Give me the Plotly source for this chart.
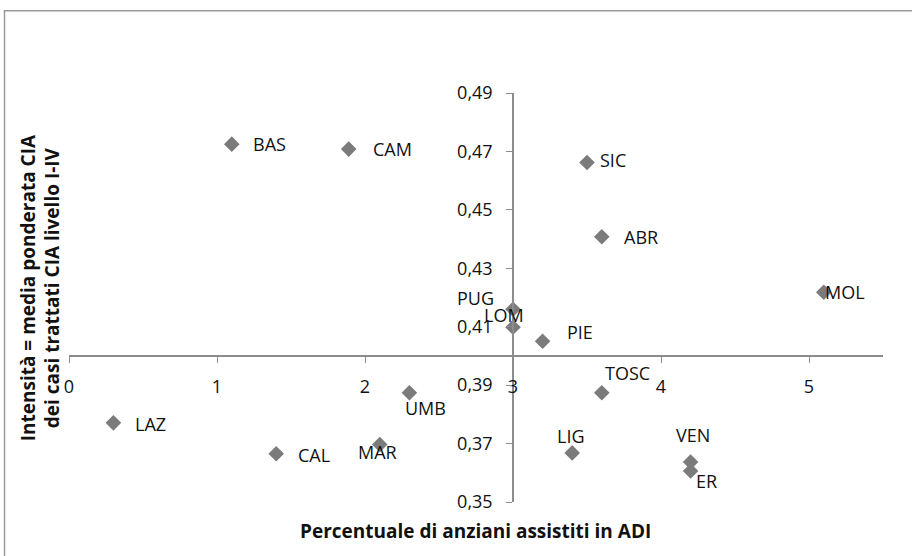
import plotly.graph_objects as go

# ---- data ----
regions = ["BAS", "CAM", "SIC", "ABR", "MOL", "PUG", "LOM", "PIE", "TOSC",
           "LIG", "VEN", "ER", "LAZ", "CAL", "MAR", "UMB"]
adi_pct = [1.10, 1.89, 3.50, 3.60, 5.10, 3.00, 3.00, 3.20, 3.60,
           3.40, 4.20, 4.20, 0.30, 1.40, 2.10, 2.30]
intensity = [0.4725, 0.4708, 0.4662, 0.4408, 0.4218, 0.4160, 0.4098, 0.4050, 0.3874,
             0.3668, 0.3637, 0.3606, 0.3771, 0.3665, 0.3697, 0.3874]

x_ticks = [0, 1, 2, 3, 4, 5]
y_ticks = [0.35, 0.37, 0.39, 0.41, 0.43, 0.45, 0.47, 0.49]
x_range = [0, 5.5]
y_range = [0.35, 0.49]
x_cross = 0.40   # x axis crosses y at this value
y_cross = 3      # y axis crosses x at this value

# label offsets in pixels (dx right, dy up)
label_dx = [38, 44, 26, 39, 21, -38, -9, 37, 26, -1, 2, 16, 37, 38, -2, 16]
label_dy = [0, 0, 3, 0, 0, 11, 12, 9, 20, 17, 27, -10, -1, -1, -8, -15]

FONT = "Open Sans"
AX_COLOR = "#8c8c8c"

fig = go.Figure()
fig.add_trace(go.Scatter(
    x=adi_pct, y=intensity, mode="markers",
    marker=dict(symbol="diamond", size=12, color="#7b7b7b"),
    hoverinfo="text", text=regions, showlegend=False,
))

for name, xv, yv, dx, dy in zip(regions, adi_pct, intensity, label_dx, label_dy):
    fig.add_annotation(x=xv, y=yv, text=name, showarrow=False,
                       xshift=dx, yshift=dy, xanchor="center", yanchor="middle",
                       font=dict(family=FONT, size=18, color="#111111"))

xpos = (x_cross - y_range[0]) / (y_range[1] - y_range[0])
ypos = (y_cross - x_range[0]) / (x_range[1] - x_range[0])

L, T, PW, PH = 69, 92.7, 814, 409
fig.update_layout(
    width=912, height=556,
    margin=dict(l=L, r=912 - L - PW, t=T, b=556 - T - PH, autoexpand=False),
    paper_bgcolor="white", plot_bgcolor="white",
    separators=",.",
    font=dict(family=FONT, size=18, color="#111111"),
    xaxis=dict(range=x_range, tickvals=x_ticks, showgrid=False, zeroline=False,
               showline=True, linecolor=AX_COLOR, linewidth=1.5,
               ticks="outside", ticklen=6, tickcolor=AX_COLOR,
               anchor="free", position=xpos, ticklabelstandoff=9,
               tickfont=dict(family=FONT, size=18)),
    yaxis=dict(range=y_range, tickvals=y_ticks, tickformat=".2f", showgrid=False,
               zeroline=False, showline=True, linecolor=AX_COLOR, linewidth=1.5,
               ticks="outside", ticklen=6, tickcolor=AX_COLOR,
               anchor="free", position=ypos, ticklabelstandoff=10,
               tickfont=dict(family=FONT, size=18)),
)


def px_x(px):
    return (px - L) / PW


def px_y(py):
    return (T + PH - py) / PH


# axis titles
fig.add_annotation(xref="paper", yref="paper", x=px_x(475), y=px_y(531),
                   xanchor="center", yanchor="middle",
                   text="<b>Percentuale di anziani assistiti in ADI</b>", showarrow=False,
                   font=dict(family=FONT, size=19, color="#111111"))
fig.add_annotation(xref="paper", yref="paper", x=px_x(40), y=px_y(288),
                   xanchor="center", yanchor="middle",
                   text="<b>Intensità = media ponderata CIA<br>dei casi trattati CIA livello I-IV</b>",
                   showarrow=False, textangle=-90,
                   font=dict(family=FONT, size=19, color="#111111"))

# chart frame
fig.add_shape(type="rect", xref="paper", yref="paper",
              x0=px_x(4.5), x1=px_x(960), y0=px_y(600), y1=px_y(10.5),
              line=dict(color="#9a9a9a", width=1.5), layer="below")

fig.write_html("out.html", config={"displayModeBar": False},
               post_script="document.body.style.margin='0';")
